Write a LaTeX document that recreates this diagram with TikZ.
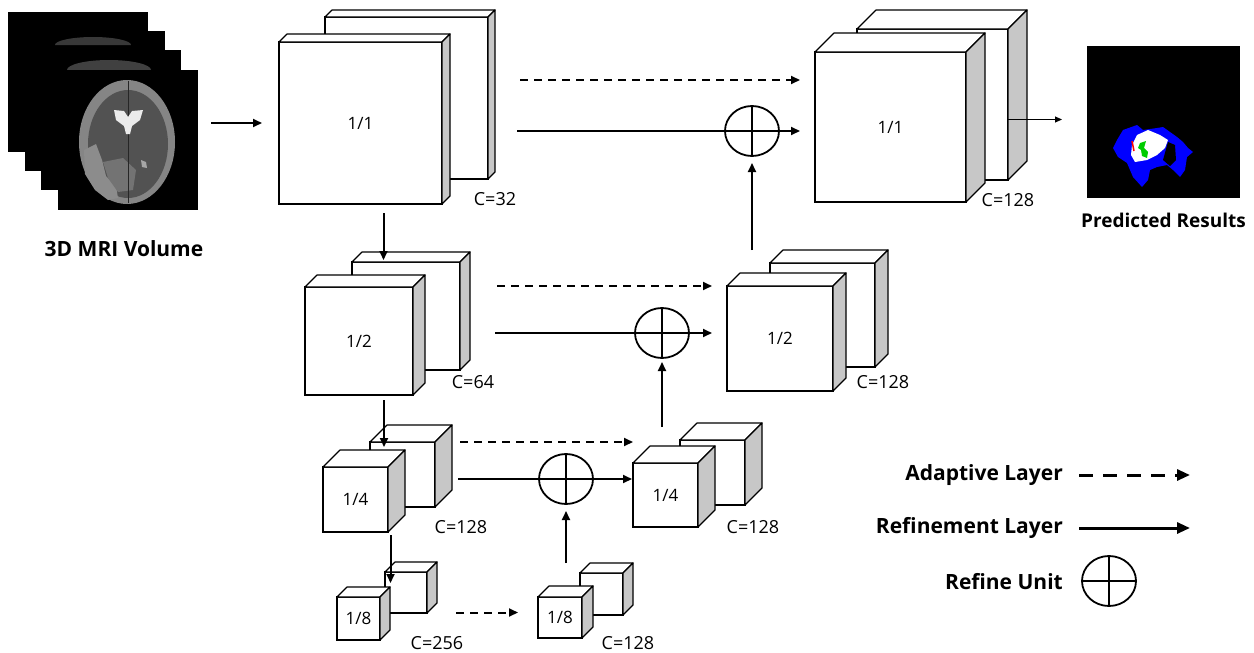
\documentclass[tikz,border=0pt]{standalone}
\usepackage{fontspec}
\setmainfont{Open Sans}
\usetikzlibrary{positioning,arrows.meta,shapes.geometric,calc}
\tikzset{fmapbox/.style={draw,fill=white,line width=1.2pt,anchor=north west,inner sep=0pt,outer
sep=0pt,font=\fontsize{17}{20}\selectfont},topface/.style={fill=white,draw,line width=1.2pt,line
join=round},sideface/.style={fill=black!22,draw,line width=1.2pt,line join=round}}
\tikzset{arr/.style={-{Triangle[length=9pt,width=8pt]},line width=2pt},dasharr/.style={arr,dash
pattern=on 8pt off 6pt},legarr/.style={-{Triangle[length=13pt,width=11pt]},line width=3pt}}
\newcommand{\fmap}[6]{%
	\node[fmapbox,minimum width=#3,minimum height=#4] (#1) at (#2) {#6};
	\filldraw[topface] (#1.north west) -- ++(#5,-#5) -- ([shift={(#5,-#5)}]#1.north east) -- (#1.north east) -- cycle;
	\filldraw[sideface] (#1.north east) -- ++(#5,-#5) -- ([shift={(#5,-#5)}]#1.south east) -- (#1.south east) -- cycle;
}

\begin{document}
\begin{tikzpicture}[x=1pt,y=-1pt,slice/.style={fill=black,minimum size=140pt,anchor=north west,inner sep=0pt,outer sep=0pt},
	refine/.style={draw,ellipse,line width=1.8pt,minimum width=54pt,minimum height=50pt,inner sep=0pt,outer sep=0pt},
	chan/.style={font=\fontsize{18}{20}\selectfont,inner sep=0pt},
	caption/.style={font=\bfseries\fontsize{21}{24}\selectfont,inner sep=0pt},
	legtext/.style={font=\bfseries\fontsize{21}{24}\selectfont,anchor=east,inner sep=0pt}]
	\useasboundingbox (0,0) rectangle (1254,653);

	\node[slice] (mri1) at (8,12) {};
	\node[slice] (mri2) at (25,31) {};
	\fill[black!78] (55,45) arc[start angle=180,end angle=360,x radius=38,y radius=8] -- cycle;
	\node[slice] (mri3) at (41,50) {};
	\fill[black!75] (67,70) arc[start angle=180,end angle=360,x radius=42,y radius=10] -- cycle;
	\node[slice] (mri4) at (58,70) {};
	\begin{scope}[shift={(mri4.center)}]
		\fill[black!48] (-1,2) ellipse [x radius=48,y radius=62];
		\fill[black!68] (0,4) ellipse [x radius=40,y radius=54];
		\fill[black!45] (-44,10) -- (-32,4) -- (-26,20) -- (-22,36) -- (-12,46) -- (-10,58) -- (-20,60) -- (-33,50) -- (-43,34) -- cycle;
		\fill[black!55] (-25,22) -- (-5,18) -- (8,30) -- (5,50) -- (-10,52) -- (-20,38) -- cycle;
		\fill[black!35] (13,20) -- (18,22) -- (19,28) -- (14,27) -- cycle;
		\draw[black!85,line width=0.8pt] (0,-59) -- (0,63);
		\fill[black!8] (-14,-30) -- (-4,-29) -- (0,-23) -- (4,-29) -- (15,-30) -- (12,-20) -- (4,-14) -- (2,-6) -- (-2,-6) -- (-4,-14) -- (-12,-20) -- cycle;
	\end{scope}
	\node[caption] (mrilab) at (124,249) {3D MRI Volume};

	\fmap{enc1b}{325,17}{163}{162}{7}{}
	\fmap{enc1f}{279,42}{163}{162}{8}{1/1}
	\fmap{enc2b}{352,262}{108}{108}{10}{}
	\fmap{enc2f}{305,287}{108}{108}{12}{1/2}
	\fmap{enc4b}{370,442}{65}{65}{17}{}
	\fmap{enc4f}{323,467}{65}{65}{17}{1/4}
	\fmap{enc8b}{385,572}{42}{41}{10}{}
	\fmap{enc8f}{337,597}{43}{43}{10}{1/8}

	\fmap{dec8b}{580,573}{43}{42}{10}{}
	\fmap{dec8f}{538,597}{44}{41}{11}{1/8}
	\fmap{dec4b}{680,440}{65}{65}{17}{}
	\fmap{dec4f}{633,463}{65}{64}{17}{1/4}
	\fmap{dec2b}{770,263}{105}{104}{13}{}
	\fmap{dec2f}{727,286}{106}{105}{13}{1/2}
	\fmap{dec1b}{857,29}{151}{151}{19}{}
	\fmap{dec1f}{815,52}{151}{150}{19}{1/1}

	\node[chan] (c1) at (495,199) {C=32};
	\node[chan] (c2) at (473,382) {C=64};
	\node[chan] (c4) at (461,527) {C=128};
	\node[chan] (c8) at (437,643) {C=256};
	\node[chan] (d8) at (628,643) {C=128};
	\node[chan] (d4) at (753,527) {C=128};
	\node[chan] (d2) at (883,382) {C=128};
	\node[chan] (d1) at (1008,200) {C=128};

	\node[refine] (R1) at (752,131) {};
	\node[refine] (R2) at (662,333) {};
	\node[refine] (R3) at (566,479) {};

	\node[fill=black,minimum width=153pt,minimum height=152pt,anchor=north west,inner sep=0pt,outer sep=0pt] (pred) at (1087,46) {};
	\fill[blue] (1117,140) -- (1123,130) -- (1137,125) -- (1143,130) -- (1157,128) -- (1163,127) -- (1170,132) -- (1177,137) -- (1183,142) -- (1188,148) -- (1193,152) -- (1187,157) -- (1185,170) -- (1180,177) -- (1173,170) -- (1167,165) -- (1157,167) -- (1150,170) -- (1148,180) -- (1142,187) -- (1133,177) -- (1127,163) -- (1118,157) -- (1113,148) -- cycle;
	\fill[black] (1168,142) -- (1175,145) -- (1176,160) -- (1170,166) -- (1163,160) -- cycle;
	\fill[white] (1132,145) -- (1137,135) -- (1148,130) -- (1160,135) -- (1168,140) -- (1165,148) -- (1157,155) -- (1147,160) -- (1135,162) -- (1131,155) -- cycle;
	\draw[red,line width=1.5pt] (1132,141) -- (1134,151);
	\fill[green!80!black] (1140,143) -- (1146,141) -- (1144,148) -- (1148,152) -- (1147,158) -- (1142,156) -- (1141,150) -- (1138,148) -- cycle;
	\node[caption,font=\bfseries\fontsize{19}{22}\selectfont,below=15pt of pred] (predlab) {Predicted Results};

	\draw[arr,shorten <=13pt,shorten >=17pt] (mri4.east |- enc1f.west) -- (enc1f.west);

	\draw[arr,shorten <=9pt,shorten >=2pt] ([xshift=23pt]enc1f.south) -- ([xshift=23pt]enc1f.south |- enc2b.north);
	\draw[arr,shorten <=5pt,shorten >=-5pt] ([xshift=25pt]enc2f.south) -- ([xshift=25pt]enc2f.south |- enc4b.north);
	\draw[arr,shorten <=3pt,shorten >=-11pt] ([xshift=35pt]enc4f.south) -- ([xshift=35pt]enc4f.south |- enc8b.north);

	\coordinate (a1) at ([yshift=18pt]enc1b.east);
	\draw[dasharr,shorten <=32pt,shorten >=15pt] (a1) -- (a1 -| dec1f.west);
	\draw[arr,shorten <=29pt,shorten >=15pt] (enc1b.east |- R1) -- (dec1f.west |- R1);
	\draw[dasharr,shorten <=37pt,shorten >=15pt] (enc2b.east |- dec2f.north) -- (dec2f.north west);
	\draw[arr,shorten <=35pt,shorten >=15pt] (enc2b.east |- R2) -- (dec2f.west |- R2);
	\draw[dasharr,shorten <=25pt] (enc4b.north east) -- (dec4f.west |- enc4b.north east);
	\draw[arr,shorten <=23pt,shorten >=1pt] (enc4b.east |- R3) -- (dec4f.west |- R3);
	\coordinate (a8) at ([yshift=5pt]dec8f.west);
	\draw[dasharr,shorten <=29pt,shorten >=20pt] (enc8b.east |- a8) -- (a8);

	\draw[arr,shorten >=7pt] ([yshift=10pt]R3.south |- dec8b.north) -- (R3.south);
	\draw[arr,shorten >=4pt] ([yshift=13pt]R2.south |- dec4b.north) -- (R2.south);
	\draw[arr,shorten >=7pt] ([yshift=13pt]R1.south |- dec2b.north) -- (R1.south);

	\coordinate (outA) at ([yshift=-15pt]dec1b.east);
	\draw[-{Triangle[length=7pt,width=6pt]},line width=0.8pt,shorten >=25pt] (outA) -- (outA -| pred.west);

	\node[legtext] (lad) at (1063,475) {Adaptive Layer};
	\node[legtext] (lref) at (1063,528) {Refinement Layer};
	\node[legtext] (lru) at (1063,582) {Refine Unit};
	\draw[legarr,dash pattern=on 14pt off 10pt] ([xshift=16pt]lad.east) -- ++(111,0);
	\draw[legarr] ([xshift=16pt]lref.east) -- ++(111,0);
	\node[refine] (RL) at (1109,581) {};

	\foreach \r in {R1,R2,R3,RL}
		\draw[line width=1.8pt] (\r.north) -- (\r.south) (\r.west) -- (\r.east);
\end{tikzpicture}
\end{document}
